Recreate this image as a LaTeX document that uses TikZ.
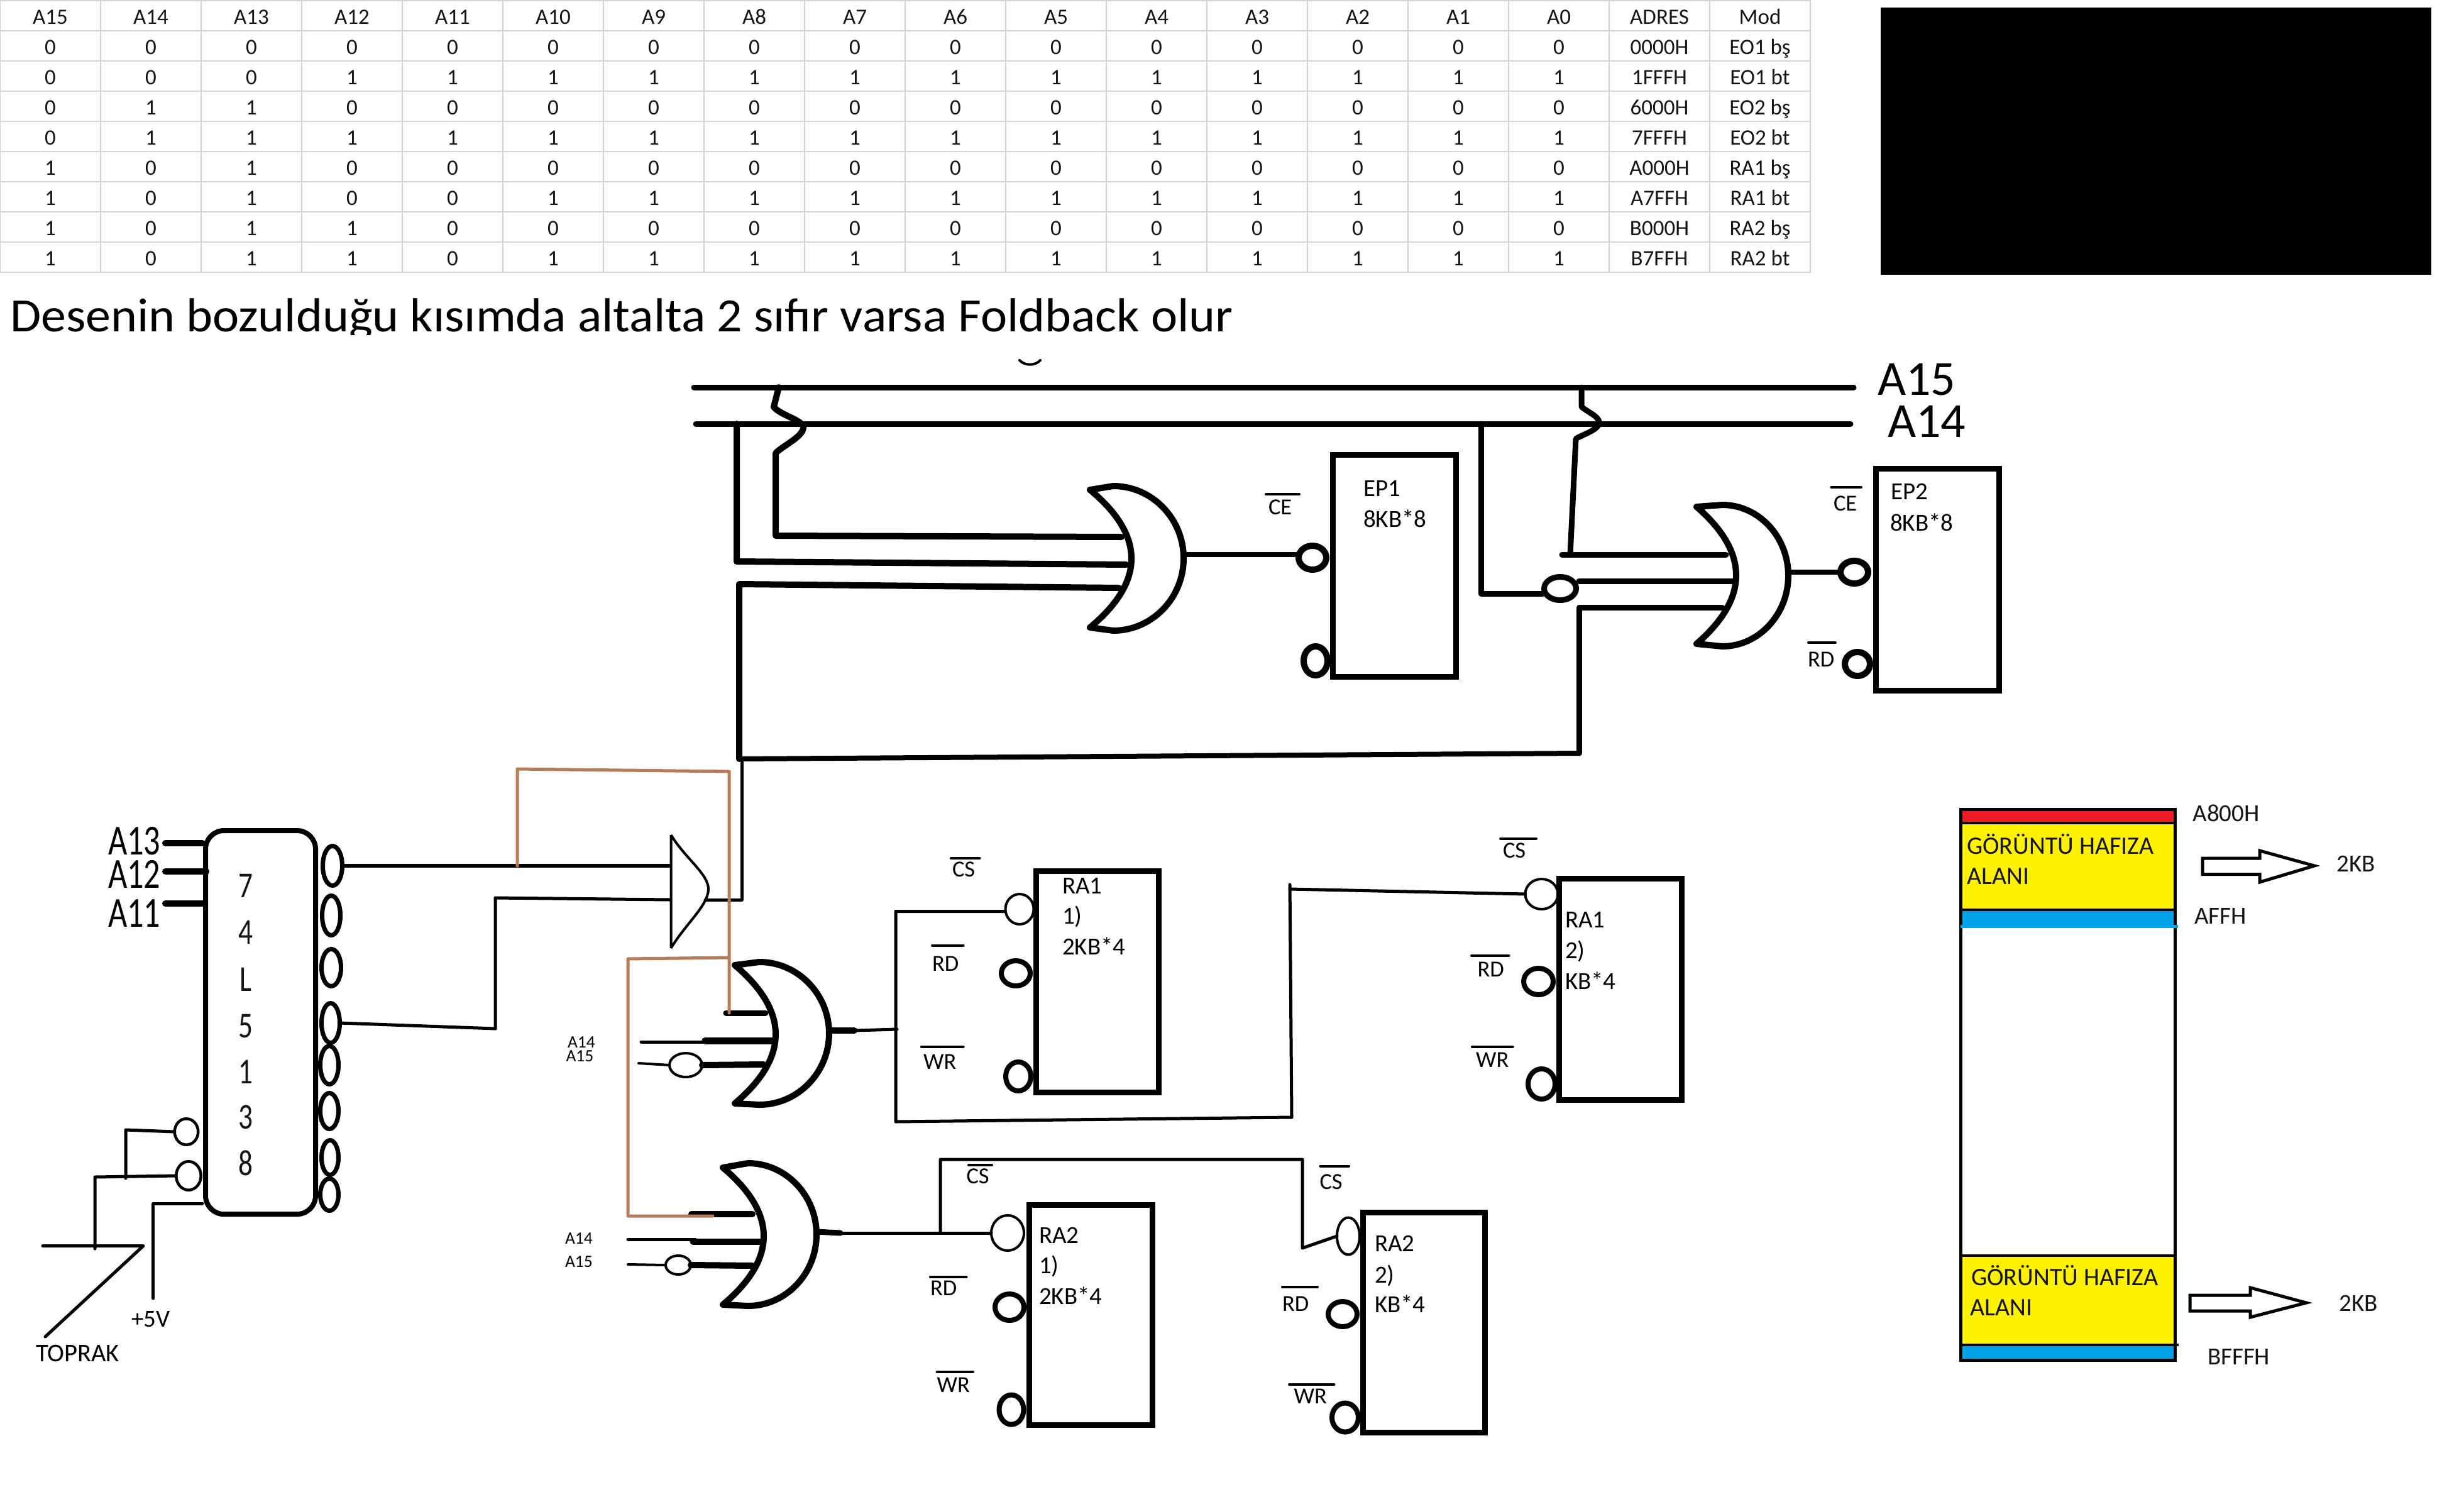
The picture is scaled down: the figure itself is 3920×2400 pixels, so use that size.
\documentclass[tikz,border=0pt]{standalone}
\usepackage{fontspec}
\usepackage{graphicx}
\setmainfont{Carlito}
\usetikzlibrary{shapes.geometric}
\newdimen\fd
\newcount\lc
\newcommand\fpx[1]{\fd=#1\dimexpr 0.7113pt\relax\fontsize{\fd}{\fd}\selectfont}
\definecolor{brownw}{HTML}{B97A57}
\definecolor{gridc}{HTML}{D4D4D4}
\definecolor{ink}{HTML}{151515}
\definecolor{redb}{HTML}{ED1C24}
\definecolor{yelb}{HTML}{FFF200}
\definecolor{blub}{HTML}{00A2E8}
\tikzset{
  x=0.025cm,y=-0.025cm,
  lw/.style={line width={#1*0.7113pt}},
  wire/.style={lw=#1,line cap=round,line join=round},
  brownwire/.style={lw=5,color=brownw,line cap=round,line join=round},
  txt/.style={inner sep=0pt,outer sep=0pt,anchor=base west,text=black},
  ctxt/.style={inner sep=0pt,outer sep=0pt,anchor=base,text=ink},
  memtxt/.style={inner sep=0pt,outer sep=0pt,anchor=base west,text=ink},
}
% text helpers, auto-named
\newcommand\tx[5][txt]{\global\advance\lc by 1 \node[#1] (lab\the\lc) at (#2,#3) {\fpx{#4}#5};}
\newcommand\ol[6]{\tx{#1}{#2}{36.5}{#3}\draw[wire=4] (#4,#6) -- (#5,#6);}
\newcommand\bub[6]{\node[ellipse,draw,fill=white,lw=#6,inner sep=0pt,outer sep=0pt,
  minimum width={(2*#4-#6)*0.7113pt},minimum height={(2*#5-#6)*0.7113pt}] (#1) at (#2,#3) {};}
\newcommand\chipbox[5]{\node[draw,lw=9,rectangle,inner sep=0pt,outer sep=0pt,anchor=north west,
  minimum width={(#4-#2)*0.7113pt},minimum height={(#5-#3)*0.7113pt}] (#1) at (#2,#3) {};}
% OR-shaped gate: tipx tipT tipB backx frontx frontT frontB apexx lw
\newcommand\orgate[9]{\draw[lw=#9,fill=white,line join=round]
  (#1,#2) .. controls ({#1+8*(#4-#1)/6},{#2+(#3-#2)/3}) and ({#1+8*(#4-#1)/6},{#2+2*(#3-#2)/3}) .. (#1,#3)
  -- (#5,#7) .. controls ({#5+.55*(#8-#5)},#7) and (#8,{(#6+#7)/2+.55*(#7-#6)/2}) .. (#8,{(#6+#7)/2})
  .. controls (#8,{(#6+#7)/2-.55*(#7-#6)/2}) and ({#5+.55*(#8-#5)},#6) .. (#5,#6) -- cycle;}
\begin{document}
\begin{tikzpicture}
\useasboundingbox (0,0) rectangle (3920,2400);
\fill[white] (0,0) rectangle (3920,2400);

% ---------- table ----------
\foreach \k in {0,...,9} {\draw[gridc,lw=2.2] (0,{1+48*\k}) -- (2881,{1+48*\k});}
\foreach \k in {0,...,18} {\draw[gridc,lw=2] ({160*\k},1) -- ({160*\k},433);}
\foreach \h [count=\c from 0] in {A15,A14,A13,A12,A11,A10,A9,A8,A7,A6,A5,A4,A3,A2,A1,A0,ADRES,Mod}
  {\tx[ctxt]{{80+160*\c}}{38.5}{35}{\h}}
\foreach \row [count=\r from 0] in {
  {0,0,0,0,0,0,0,0,0,0,0,0,0,0,0,0,0000H,EO1 bş},
  {0,0,0,1,1,1,1,1,1,1,1,1,1,1,1,1,1FFFH,EO1 bt},
  {0,1,1,0,0,0,0,0,0,0,0,0,0,0,0,0,6000H,EO2 bş},
  {0,1,1,1,1,1,1,1,1,1,1,1,1,1,1,1,7FFFH,EO2 bt},
  {1,0,1,0,0,0,0,0,0,0,0,0,0,0,0,0,A000H,RA1 bş},
  {1,0,1,0,0,1,1,1,1,1,1,1,1,1,1,1,A7FFH,RA1 bt},
  {1,0,1,1,0,0,0,0,0,0,0,0,0,0,0,0,B000H,RA2 bş},
  {1,0,1,1,0,1,1,1,1,1,1,1,1,1,1,1,B7FFH,RA2 bt}}
  {\foreach \v [count=\c from 0] in \row
    {\tx[ctxt]{{80+160*\c}}{{86.5+48*\r}}{35}{\v}}}

\fill[black] (2992,12) rectangle (3868,437);

% ---------- title ----------
\tx{16}{527}{76}{\scalebox{1.052}[1]{Desenin bozulduğu kısımda altalta 2 sıfır varsa Foldback olur}}
\fill[white] (0,533) rectangle (2100,572);
\draw[wire=4] (1622,573) .. controls (1630,582) and (1647,582) .. (1655,573);

% ---------- bubbles ----------
\bub{bE1}{2088}{887}{27}{24}{10}
\bub{bE1r}{2093}{1051}{24}{28}{10}
\bub{bE2}{2950}{910}{27}{23}{10}
\bub{bE2r}{2955}{1056}{25}{24}{10}
\bub{bInv}{2482}{936}{30}{23}{9}
\bub{bA}{1622}{1446}{24.5}{26}{4}
\bub{bAr}{1616}{1548}{27}{24}{8}
\bub{bAw}{1620}{1712}{24}{27}{8}
\bub{bB}{2452.5}{1422}{28}{26}{4}
\bub{bBr}{2447.5}{1561}{27.5}{25}{8}
\bub{bBw}{2452.5}{1724}{25.5}{28}{8}
\bub{bC}{1603}{1961}{28}{30}{4}
\bub{bCr}{1606}{2079}{27}{25}{8}
\bub{bCw}{1609}{2242}{23.5}{27.5}{8}
\bub{bD}{2145}{1966}{20}{31.5}{4}
\bub{bDr}{2136}{2090}{27}{24}{8}
\bub{bDw}{2140}{2254.5}{25}{27}{8}
\bub{bGthree}{1091}{1694}{28}{21}{4}
\bub{bGfour}{1079}{2012}{22}{17}{4}
\bub{o1}{529}{1377}{19}{35}{7}
\bub{o2}{527}{1456}{18}{35}{7}
\bub{o3}{527}{1539}{19}{33}{7}
\bub{o4}{526}{1627}{18}{35}{7}
\bub{o5}{524}{1694}{18}{34}{7}
\bub{o6}{524}{1767}{18}{32}{7}
\bub{o7}{525}{1841}{17}{31}{7}
\bub{o8}{524}{1900}{18}{29}{7}
\bub{en1}{296.5}{1800}{21}{23}{4.5}
\bub{en2}{300}{1870}{22}{25}{4.5}

% ---------- named junctions ----------
\coordinate (bus15L) at (1104,616);
\coordinate (bus15R) at (2949,616);
\coordinate (bus14L) at (1107,674);
\coordinate (bus14R) at (2944,674);
\coordinate (g1a) at (1784,854);
\coordinate (g1b) at (1792,898);
\coordinate (g1c) at (1780,935);
\coordinate (g1out) at (1880,882);
\coordinate (g2a) at (2746,882);
\coordinate (g2b) at (2759,924);
\coordinate (g2c) at (2740,966);
\coordinate (g2out) at (2843,910);
\coordinate (j1) at (1176,1207);
\coordinate (j2) at (2512,1198);
\coordinate (g0out) at (1122,1431);
\coordinate (g0a) at (1066,1377);
\coordinate (g0b) at (1066,1431);
\coordinate (g3out) at (1320,1639);
\coordinate (g3j) at (1427,1637);
\coordinate (g4out) at (1299,1959);
\coordinate (g4j) at (1337,1961);
\coordinate (invR) at (2512,924);
\coordinate (invL) at (2454,944);
\coordinate (bAin) at (1598,1449.5);

% ---------- buses ----------
\draw[wire=9] (bus15L) -- (bus15R);
\draw[wire=9] (bus14L) -- (bus14R);

% EP1 gate wiring
\draw[wire=10] (1239,616) -- (1231,647) .. controls (1240,660) and (1278,668) .. (1278,680) .. controls (1278,695) and (1240,712) .. (1234,721) -- (1234,852) -- (g1a);
\draw[wire=10] (1172,674) -- (1172,893) -- (g1b);
\draw[wire=10] (g1c) -- (1176,929) -- (j1);
\draw[wire=8] (j1) -- (j2);
\draw[wire=8] (g1out) -- (bE1.west |- g1out);

% EP2 gate wiring
\draw[wire=9] (2516,616) -- (2516,647) .. controls (2525,655) and (2544,662) .. (2544,672) .. controls (2544,684) and (2515,692) .. (2507,698) -- (2498,882);
\draw[wire=9] (2485,882) -- (g2a);
\draw[wire=9] (2356,674) -- (2356,944) -- (invL);
\draw[wire=9] (invR) -- (g2b);
\draw[wire=9] (g2c) -- (2512,966) -- (j2);
\draw[wire=8] (g2out) -- (bE2.west);

% link from small gate to the bus tie
\draw[wire=5] (g0out) -- (1180,1431) -- (1180,1207);

% decoder wiring
\draw[wire=6] (o1.east) -- (g0a);
\draw[wire=5] (o4.east) -- (788,1636) -- (788,1428) -- (g0b);
\draw[wire=10] (263,1341) -- (322,1341);
\draw[wire=10] (263,1386) -- (328,1386);
\draw[wire=10] (263,1437) -- (322,1437);
\draw[wire=5] (en1.west) -- (200,1797) -- (200,1874);
\draw[wire=5] (en2.west) -- (151,1872) -- (151,1986);
\draw[wire=5] (68,1981.5) -- (228,1981.5) -- (72,2126);
\draw[wire=5] (322,1914) -- (243.6,1914) -- (243.6,2065);

% RAM group 1
\draw[wire=9] (1155,1611) -- (1218,1611);
\draw[wire=11] (1122,1655) -- (1232,1655);
\draw[wire=5] (1020,1657) -- (1159,1657);
\draw[wire=10] (bGthree.east) -- (1215,1693);
\draw[wire=4] (1016,1691) -- (bGthree.west);
\draw[wire=10] (g3out) -- (1359,1639);
\draw[wire=5] (1359,1639) -- (g3j);
\draw[wire=5] (bAin) -- (1425,1449.5) -- (1425,1784) -- (2055,1777) -- (2052,1407);
\draw[wire=5] (2052,1414) -- (bB.west);

% RAM group 2
\draw[wire=10] (1100,1931) -- (1197,1931);
\draw[wire=10] (1102.5,1975) -- (1211,1975);
\draw[wire=5] (999,1971) -- (1106,1971);
\draw[wire=10] (bGfour.east) -- (1197,2013);
\draw[wire=4] (999,2011) -- (bGfour.west);
\draw[wire=9] (g4out) -- (g4j);
\draw[wire=5] (g4j) -- (bC.west);
\draw[wire=5] (1496,1961) -- (1496,1844) -- (2072,1844) -- (2072,1985) -- (bD.west);

% ---------- gates ----------
\draw[lw=4,line join=round] (1067.5,1328) -- (1067.5,1508) (1067.5,1328) .. controls (1090,1365) and (1127,1390) .. (1127,1414) .. controls (1127,1440) and (1090,1470) .. (1067.5,1508);
\orgate{1734}{779}{998}{1800}{1771}{773}{1003}{1883}{10}
\orgate{2699}{806}{1024}{2762}{2740}{803}{1028}{2845}{10}
\orgate{1169}{1535}{1755}{1234}{1208}{1530}{1757}{1319}{10}
\orgate{1150}{1857}{2075}{1215}{1190}{1850}{2077}{1299}{10}

% ---------- chips ----------
\chipbox{EPone}{2120}{723}{2316}{1076}
\chipbox{EPtwo}{2984}{745}{3180}{1098}
\chipbox{RAoneA}{1648}{1385}{1843}{1737}
\chipbox{RAoneB}{2480.5}{1397}{2675}{1749}
\chipbox{RAtwoA}{1637}{1916}{1833}{2266}
\chipbox{RAtwoB}{2168}{1928}{2362}{2278}
\node[draw,lw=8,rectangle,rounded corners=21pt,inner sep=0pt,outer sep=0pt,anchor=north west,
  minimum width={175*0.7113pt},minimum height={610*0.7113pt}] (dec) at (327,1321) {};

% ---------- brown wires ----------
\draw[brownwire] (823,1377) -- (823,1223) -- (1160,1227) -- (1160,1611);
\draw[brownwire] (1160,1523) -- (999,1525) -- (999,1934) -- (1134,1934);

% ---------- chip texts ----------
\tx{2169}{789}{39}{EP1}\tx{2169}{838}{39}{8KB*8}
\tx{3008}{794}{39}{EP2}\tx{3007}{844}{39}{8KB*8}
\tx{1690}{1421}{39}{RA1}\tx{1690}{1469}{39}{1)}\tx{1690}{1518}{39}{2KB*4}
\tx{2490}{1475.5}{39}{RA1}\tx{2490}{1524}{39}{2)}\tx{2490}{1573}{39}{KB*4}
\tx{1653}{1977}{39}{RA2}\tx{1653}{2025.5}{39}{1)}\tx{1653}{2074.5}{39}{2KB*4}
\tx{2187}{1990}{39}{RA2}\tx{2187}{2040}{39}{2)}\tx{2187}{2087}{39}{KB*4}

% ---------- overlined pin labels ----------
\ol{2018}{818}{CE}{2014}{2067}{786}
\ol{2917}{812}{CE}{2913.5}{2961}{775}
\ol{2876}{1060}{RD}{2877}{2920}{1022}
\ol{1515}{1394}{CS}{1513}{1558.5}{1365}
\ol{1483}{1544}{RD}{1483}{1532.6}{1503.5}
\ol{1469}{1700}{WR}{1466}{1532.6}{1665}
\ol{2391}{1364}{CS}{2387}{2444}{1333.5}
\ol{2350.5}{1553}{RD}{2341}{2400.5}{1520}
\ol{2348}{1697}{WR}{2342}{2406.6}{1665}
\ol{1537.5}{1882}{CS}{1541}{1578}{1853}
\ol{1480}{2060}{RD}{1480}{1537.5}{2031}
\ol{1490.5}{2214}{WR}{1490.5}{1548}{2182}
\ol{2099.5}{1891}{CS}{2100.5}{2146}{1854.6}
\ol{2040}{2085}{RD}{2040}{2096}{2047}
\ol{2058.7}{2232}{WR}{2051}{2122.5}{2202}

% ---------- other labels ----------
\tx{2987}{628}{78}{A15}
\tx{3003}{695}{78}{A14}
\tx{172}{1359}{68}{\scalebox{.77}[1]{A13}}
\tx{172}{1412}{68}{\scalebox{.77}[1]{A12}}
\tx{172}{1474}{68}{\scalebox{.77}[1]{A11}}
\foreach \d/\yy in {7/1427,4/1501.5,L/1576,5/1650,1/1723,3/1795,8/1869}
  {\tx[ctxt]{391}{\yy}{58}{\scalebox{.78}[1]{\d}}}
\tx{209}{2110.6}{39}{+5V}
\tx{57}{2165}{40.5}{TOPRAK}
\tx{903}{1666}{27.5}{A14}
\tx{900.5}{1688}{27.5}{A15}
\tx{899}{1978}{27.5}{A14}
\tx{899}{2015}{27.5}{A15}

% ---------- memory map ----------
\fill[redb] (3119,1288) rectangle (3461,1308);
\fill[yelb] (3119,1310) rectangle (3461,1446);
\fill[blub] (3119,1448) rectangle (3461,1474);
\fill[yelb] (3119,1998) rectangle (3461,2138);
\fill[blub] (3119,2140) rectangle (3461,2162);
\draw[lw=5] (3119,1287.5) rectangle (3460.6,2163);
\draw[lw=4] (3119,1309) -- (3461,1309);
\draw[lw=4] (3119,1447) -- (3461,1447);
\draw[lw=4] (3119,1997) -- (3461,1997);
\draw[lw=4] (3119,2139) -- (3466,2139);
\draw[blub,lw=5] (3119,1473) -- (3465,1473);
\tx[memtxt]{3129}{1358}{40}{GÖRÜNTÜ HAFIZA}
\tx[memtxt]{3129}{1406}{40}{ALANI}
\tx[memtxt]{3136}{2044}{40}{GÖRÜNTÜ HAFIZA}
\tx[memtxt]{3134}{2092}{40}{ALANI}
\tx[memtxt]{3488.4}{1306}{39}{A800H}
\tx[memtxt]{3491}{1469}{39}{AFFH}
\tx[memtxt]{3512}{2170}{39}{BFFFH}
\tx[memtxt]{3717.6}{1386}{39}{2KB}
\tx[memtxt]{3721.5}{2085}{39}{2KB}
\draw[lw=5,line join=miter,fill=white] (3504,1365) -- (3595,1365) -- (3595,1353) -- (3682,1377) -- (3595,1403) -- (3595,1390.6) -- (3504,1390.6) -- cycle;
\draw[lw=5,line join=miter,fill=white] (3484,2060) -- (3580,2060) -- (3580,2048) -- (3669,2072) -- (3580,2095) -- (3580,2085) -- (3484,2085) -- cycle;
\end{tikzpicture}
\end{document}
